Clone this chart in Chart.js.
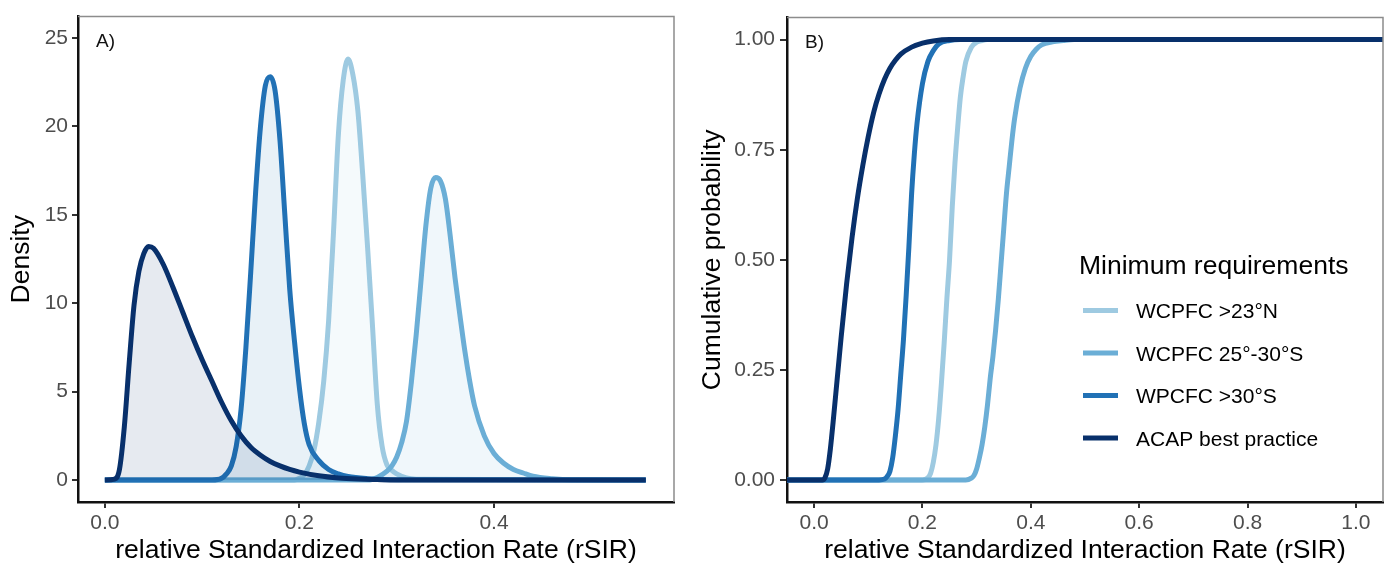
<!DOCTYPE html>
<html>
<head>
<meta charset="utf-8">
<script src="https://cdn.jsdelivr.net/npm/chart.js@4.4.1/dist/chart.umd.min.js"></script>
<style>
  html, body { margin: 0; padding: 0; background: #fff; }
  #wrap { position: relative; width: 1392px; height: 567px; }
  #chartA { position: absolute; left: 0; top: 0; }
  #chartB { position: absolute; left: 690px; top: 0; }
</style>
</head>
<body>
<div id="wrap">
  <canvas id="chartA" width="690" height="567"></canvas>
  <canvas id="chartB" width="702" height="567"></canvas>
</div>
<script>
// series, in legend order
const seriesNames = ['WCPFC >23°N', 'WCPFC 25°-30°S', 'WPCFC >30°S', 'ACAP best practice'];
const seriesColors = ['#9ecae1', '#6baed6', '#2171b5', '#08306b'];
const seriesFills = ['rgba(158,202,225,0.1)', 'rgba(107,174,214,0.1)', 'rgba(33,113,181,0.1)', 'rgba(8,48,107,0.1)'];

// A) density
const densX1 = [0, 0.195, 0.2, 0.205, 0.21, 0.215, 0.22, 0.225, 0.23, 0.235, 0.24, 0.245, 0.25, 0.255, 0.26, 0.265, 0.27, 0.275, 0.28, 0.285, 0.29, 0.295, 0.3, 0.31, 0.32, 0.556];
const densY1 = [0, 0, 0.1, 0.3, 0.8, 1.7, 3.3, 5.6, 9.0, 14.0, 19.5, 22.6, 23.8, 22.9, 20.9, 17.3, 13.2, 8.8, 4.3, 1.9, 0.85, 0.55, 0.35, 0.12, 0.05, 0];

const densX2 = [0, 0.27, 0.28, 0.29, 0.295, 0.3, 0.305, 0.31, 0.315, 0.32, 0.325, 0.33, 0.335, 0.34, 0.345, 0.35, 0.355, 0.36, 0.365, 0.37, 0.375, 0.38, 0.39, 0.4, 0.41, 0.42, 0.43, 0.44, 0.46, 0.48, 0.556];
const densY2 = [0, 0, 0.15, 0.5, 0.8, 1.3, 2.1, 3.3, 5.5, 8.2, 11.3, 14.4, 16.5, 17.1, 16.9, 15.9, 13.8, 11.4, 9.3, 7.3, 5.6, 4.2, 2.5, 1.5, 0.95, 0.6, 0.4, 0.22, 0.08, 0.02, 0];

const densX3 = [0, 0.11, 0.12, 0.125, 0.13, 0.135, 0.14, 0.145, 0.15, 0.155, 0.16, 0.165, 0.17, 0.175, 0.18, 0.185, 0.19, 0.195, 0.2, 0.205, 0.21, 0.22, 0.23, 0.24, 0.25, 0.27, 0.3, 0.556];
const densY3 = [0, 0, 0.1, 0.35, 0.8, 1.9, 4.0, 7.5, 11.8, 16.3, 20.0, 22.3, 22.8, 22.0, 19.2, 15.0, 10.8, 7.8, 5.2, 3.2, 2.0, 1.1, 0.6, 0.35, 0.2, 0.08, 0.02, 0];

const densX4 = [0, 0.01, 0.015, 0.02, 0.025, 0.03, 0.035, 0.04, 0.045, 0.05, 0.06, 0.07, 0.08, 0.09, 0.1, 0.11, 0.12, 0.13, 0.14, 0.15, 0.16, 0.17, 0.18, 0.19, 0.2, 0.22, 0.24, 0.26, 0.28, 0.3, 0.556];
const densY4 = [0, 0.05, 0.6, 3.0, 6.6, 9.9, 11.8, 12.8, 13.2, 13.1, 12.2, 10.9, 9.5, 8.1, 6.8, 5.6, 4.4, 3.35, 2.5, 1.85, 1.4, 1.05, 0.8, 0.6, 0.45, 0.24, 0.12, 0.06, 0.03, 0.01, 0];

// B) cumulative probability
const cdfX1 = [-0.05, 0.2, 0.21, 0.215, 0.22, 0.225, 0.23, 0.235, 0.24, 0.245, 0.25, 0.255, 0.26, 0.265, 0.27, 0.275, 0.28, 0.29, 0.3, 0.31, 0.32, 1.05];
const cdfY1 = [0, 0, 0.005, 0.015, 0.04, 0.08, 0.14, 0.22, 0.31, 0.41, 0.5, 0.62, 0.72, 0.8, 0.87, 0.915, 0.95, 0.982, 0.994, 0.998, 1, 1];

const cdfX2 = [-0.05, 0.28, 0.29, 0.295, 0.3, 0.305, 0.31, 0.315, 0.32, 0.325, 0.33, 0.335, 0.34, 0.345, 0.35, 0.355, 0.36, 0.365, 0.37, 0.38, 0.39, 0.4, 0.41, 0.42, 0.44, 0.46, 0.48, 1.05];
const cdfY2 = [0, 0, 0.004, 0.01, 0.025, 0.05, 0.08, 0.12, 0.17, 0.23, 0.28, 0.34, 0.41, 0.49, 0.57, 0.65, 0.71, 0.77, 0.82, 0.89, 0.935, 0.962, 0.978, 0.988, 0.995, 0.998, 1, 1];

const cdfX3 = [-0.05, 0.12, 0.13, 0.135, 0.14, 0.145, 0.15, 0.155, 0.16, 0.165, 0.17, 0.175, 0.18, 0.185, 0.19, 0.2, 0.21, 0.22, 0.23, 0.25, 0.27, 1.05];
const cdfY3 = [0, 0, 0.002, 0.008, 0.02, 0.05, 0.1, 0.16, 0.24, 0.32, 0.42, 0.53, 0.65, 0.74, 0.81, 0.9, 0.95, 0.975, 0.99, 0.998, 1, 1];

const cdfX4 = [-0.05, 0.015, 0.02, 0.025, 0.03, 0.035, 0.04, 0.045, 0.05, 0.06, 0.07, 0.08, 0.09, 0.1, 0.11, 0.12, 0.13, 0.14, 0.15, 0.16, 0.18, 0.2, 0.22, 0.25, 1.05];
const cdfY4 = [0, 0, 0.005, 0.025, 0.07, 0.13, 0.195, 0.26, 0.325, 0.445, 0.55, 0.64, 0.715, 0.78, 0.835, 0.877, 0.91, 0.935, 0.953, 0.967, 0.983, 0.992, 0.997, 1, 1];

// tick labels
const xTicksA = [0, 0.2, 0.4];
const yTicksA = [0, 5, 10, 15, 20, 25];
const xTicksB = [0, 0.2, 0.4, 0.6, 0.8, 1.0];
const yTicksB = [0, 0.25, 0.5, 0.75, 1.0];

const FONT = "'Liberation Sans', Arial, sans-serif";
Chart.defaults.font.family = FONT;

function pts(xs, ys) {
  return xs.map((x, i) => ({ x: x, y: ys[i] }));
}

function makeSets(xsList, ysList, filled) {
  return seriesNames.map((name, i) => ({
    label: name,
    data: pts(xsList[i], ysList[i]),
    borderColor: seriesColors[i],
    backgroundColor: seriesFills[i],
    fill: filled ? 'origin' : false,
    borderWidth: 5,
    pointRadius: 0,
    cubicInterpolationMode: 'monotone',
    order: seriesNames.length - i   // ACAP drawn on top
  }));
}

function axis(o) {
  return {
    type: 'linear',
    min: o.min,
    max: o.max,
    afterBuildTicks: s => { s.ticks = o.ticks.map(v => ({ value: v })); },
    afterFit: s => {
      if (o.width) s.width = o.width;
      if (o.height) s.height = o.height;
    },
    ticks: {
      callback: v => Number(v).toFixed(o.digits),
      color: '#4d4d4d',
      font: { size: 21 },
      padding: o.pad,
      maxRotation: 0,
      autoSkip: false
    },
    grid: { display: true, drawOnChartArea: false, drawTicks: true, tickLength: o.tick, color: '#333', lineWidth: 2 },
    border: { display: true, color: '#111', width: 2.5 },
    title: { display: true, text: o.title, color: '#000', font: { size: 26.5 }, padding: o.titlePad }
  };
}

// gray top/right frame + panel tag
const panelFrame = {
  id: 'panelFrame',
  afterDraw(chart, args, o) {
    const { ctx, chartArea: a } = chart;
    ctx.save();
    ctx.strokeStyle = '#8c8c8c';
    ctx.lineWidth = 1.5;
    ctx.beginPath();
    ctx.moveTo(a.left, a.top);
    ctx.lineTo(a.right, a.top);
    ctx.lineTo(a.right, a.bottom);
    ctx.stroke();
    ctx.fillStyle = '#111';
    ctx.font = '19px ' + FONT;
    ctx.textBaseline = 'alphabetic';
    ctx.fillText(o.tag, a.left + 18, a.top + 30);
    ctx.restore();
  }
};

// legend inside panel B
const insideLegend = {
  id: 'insideLegend',
  afterDraw(chart, args, o) {
    if (!o.title) return;
    const ctx = chart.ctx;
    ctx.save();
    ctx.textBaseline = 'alphabetic';
    ctx.fillStyle = '#000';
    ctx.font = '26.5px ' + FONT;
    ctx.fillText(o.title, o.x, o.y);
    ctx.font = '21px ' + FONT;
    chart.data.datasets.forEach((ds, i) => {
      const base = o.y + 44 + i * 42.5;
      ctx.strokeStyle = ds.borderColor;
      ctx.lineWidth = 5;
      ctx.beginPath();
      ctx.moveTo(o.x + 4, base - 7.5);
      ctx.lineTo(o.x + 39, base - 7.5);
      ctx.stroke();
      ctx.fillStyle = '#000';
      ctx.fillText(ds.label, o.x + 57, base);
    });
    ctx.restore();
  }
};

const common = {
  responsive: false,
  devicePixelRatio: 1,
  animation: false,
  events: []
};

new Chart(document.getElementById('chartA'), {
  type: 'line',
  data: { datasets: makeSets([densX1, densX2, densX3, densX4], [densY1, densY2, densY3, densY4], true) },
  plugins: [panelFrame],
  options: Object.assign({}, common, {
    layout: { padding: { left: 0, top: 10, right: 16, bottom: 0 } },
    scales: {
      x: axis({ min: -0.0276, max: 0.585, ticks: xTicksA, digits: 1, height: 65, tick: 6, pad: 3,
                title: 'relative Standardized Interaction Rate (rSIR)', titlePad: { top: 0, bottom: 0 } }),
      y: axis({ min: -1.24, max: 26.2, ticks: yTicksA, digits: 0, width: 78, tick: 6, pad: 4,
                title: 'Density', titlePad: { top: 6, bottom: 0 } })
    },
    plugins: {
      legend: { display: false },
      tooltip: { enabled: false },
      panelFrame: { tag: 'A)' }
    }
  })
});

new Chart(document.getElementById('chartB'), {
  type: 'line',
  data: { datasets: makeSets([cdfX1, cdfX2, cdfX3, cdfX4], [cdfY1, cdfY2, cdfY3, cdfY4], false) },
  plugins: [panelFrame, insideLegend],
  options: Object.assign({}, common, {
    layout: { padding: { left: 0, top: 10, right: 9, bottom: 0 } },
    scales: {
      x: axis({ min: -0.05, max: 1.05, ticks: xTicksB, digits: 1, height: 65, tick: 6, pad: 3,
                title: 'relative Standardized Interaction Rate (rSIR)', titlePad: { top: 0, bottom: 0 } }),
      y: axis({ min: -0.05, max: 1.05, ticks: yTicksB, digits: 2, width: 97, tick: 7, pad: 5,
                title: 'Cumulative probability', titlePad: { top: 7, bottom: 0 } })
    },
    plugins: {
      legend: { display: false },
      tooltip: { enabled: false },
      panelFrame: { tag: 'B)' },
      insideLegend: { title: 'Minimum requirements', x: 389, y: 274 }
    }
  })
});
</script>
</body>
</html>
